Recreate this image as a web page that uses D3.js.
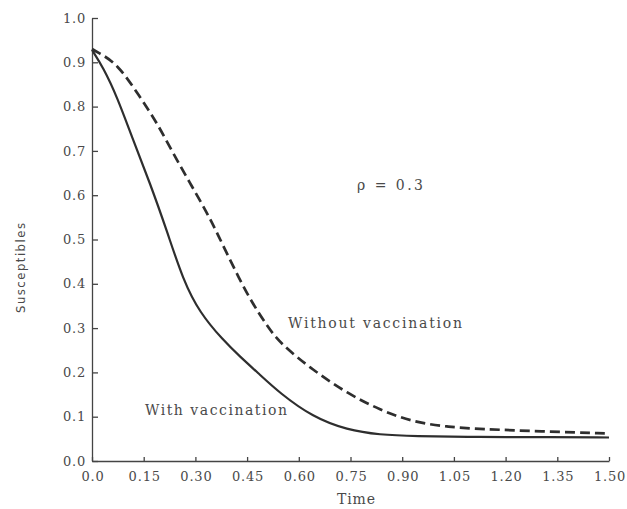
<!DOCTYPE html>
<html>
<head>
<meta charset="utf-8">
<script src="https://cdn.jsdelivr.net/npm/d3@7"></script>
<style>
  body { margin: 0; background: #fff; }
  text { font-family: "DejaVu Serif", "Liberation Serif", serif; fill: #4a4a4a; }
</style>
</head>
<body>
<div id="chart"></div>
<script>
// data
var timeWith = [0, 0.032, 0.073, 0.119, 0.168, 0.218, 0.264, 0.313, 0.38, 0.43, 0.48, 0.545, 0.641, 0.74, 0.836, 0.931, 1.126, 1.3, 1.5];
var withVacc = [0.928, 0.889, 0.822, 0.725, 0.628, 0.518, 0.409, 0.334, 0.273, 0.235, 0.2, 0.153, 0.099, 0.07, 0.059, 0.056, 0.054, 0.054, 0.053];

var timeWithout = [0, 0.015, 0.073, 0.139, 0.189, 0.235, 0.284, 0.334, 0.366, 0.409, 0.458, 0.508, 0.545, 0.641, 0.74, 0.836, 0.931, 1.03, 1.126, 1.3, 1.5];
var withoutVacc = [0.93, 0.923, 0.898, 0.822, 0.763, 0.695, 0.628, 0.56, 0.51, 0.44, 0.365, 0.305, 0.266, 0.205, 0.153, 0.115, 0.088, 0.077, 0.072, 0.067, 0.062];

var xTicks = [0, 0.15, 0.30, 0.45, 0.60, 0.75, 0.90, 1.05, 1.20, 1.35, 1.50];
var yTicks = [0, 0.1, 0.2, 0.3, 0.4, 0.5, 0.6, 0.7, 0.8, 0.9, 1.0];

var svgWidth = 627;
var svgHeight = 509;

var svg = d3.select("#chart")
    .append("svg")
    .attr("width", svgWidth)
    .attr("height", svgHeight);

var x = d3.scaleLinear().domain([0, 1.5]).range([92, 609]);
var y = d3.scaleLinear().domain([0, 1.0]).range([461, 18]);

// axes
var xAxis = svg.append("g")
    .attr("transform", `translate(0, ${y(0)})`)
    .call(d3.axisBottom(x).tickValues(xTicks).tickSizeInner(-4).tickSizeOuter(0)
        .tickFormat(d => d.toFixed(d === 0 ? 1 : 2)));

xAxis.selectAll("text")
    .attr("y", 11)
    .attr("dx", "0.5px")
    .style("font-size", "13px")
    .style("letter-spacing", "0.8px");

var yAxis = svg.append("g")
    .attr("transform", `translate(${x(0)}, 0)`)
    .call(d3.axisLeft(y).tickValues(yTicks).tickSizeInner(-6).tickSizeOuter(0)
        .tickFormat(d3.format(".1f")));

yAxis.selectAll("text")
    .attr("x", -6)
    .style("font-size", "13px")
    .style("letter-spacing", "0.8px");

svg.selectAll(".domain, .tick line")
    .attr("stroke", "#444")
    .attr("stroke-width", 1.3);

// curves
var line = d3.line()
    .x(d => x(d[0]))
    .y(d => y(d[1]))
    .curve(d3.curveBasis);

svg.append("path")
    .datum(d3.zip(timeWith, withVacc))
    .attr("fill", "none")
    .attr("stroke", "#2e2e2e")
    .attr("stroke-width", 2.2)
    .attr("d", line);

svg.append("path")
    .datum(d3.zip(timeWithout, withoutVacc))
    .attr("fill", "none")
    .attr("stroke", "#2e2e2e")
    .attr("stroke-width", 2.7)
    .attr("stroke-dasharray", "10,5")
    .attr("d", line);

// labels
function label(txt, px, py, len) {
    return svg.append("text")
        .attr("x", px)
        .attr("y", py)
        .attr("textLength", len)
        .attr("lengthAdjust", "spacing")
        .style("font-size", "14px")
        .text(txt);
}

label("Time", 337, 504, 38);
label("\u03C1 = 0.3", 357, 190, 66);
label("Without vaccination", 288, 328, 174);
label("With vaccination", 145, 415, 142);

svg.append("text")
    .attr("transform", "translate(25, 268) rotate(-90)")
    .attr("text-anchor", "middle")
    .attr("textLength", 90)
    .attr("lengthAdjust", "spacing")
    .style("font-family", "'DejaVu Sans Condensed', 'DejaVu Sans', sans-serif")
    .style("font-size", "13px")
    .text("Susceptibles");
</script>
</body>
</html>
